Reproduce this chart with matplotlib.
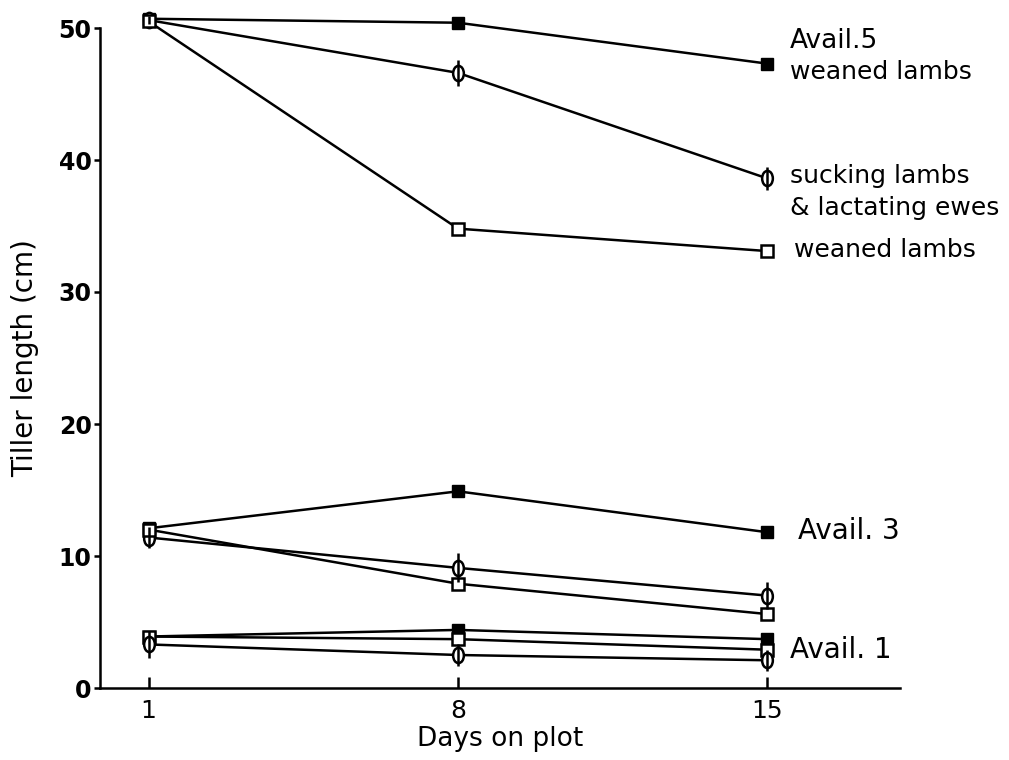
import numpy as np
import matplotlib.pyplot as plt
from matplotlib.path import Path
from matplotlib.transforms import Affine2D

# Tiller length (cm) on days 1, 8 and 15 for three herbage availabilities
days = [1, 8, 15]

avail5_weaned_filled = [50.7, 50.4, 47.3]
avail5_sucking = [50.6, 46.6, 38.6]
avail5_sucking_err = [0.3, 1.0, 0.9]
avail5_weaned_open = [50.5, 34.8, 33.1]

avail3_weaned_filled = [12.1, 14.9, 11.8]
avail3_sucking = [11.4, 9.1, 7.0]
avail3_sucking_err = [0.8, 1.1, 1.0]
avail3_weaned_open = [12.0, 7.9, 5.6]

avail1_weaned_filled = [3.9, 4.4, 3.7]
avail1_weaned_open = [3.9, 3.7, 2.9]
avail1_sucking = [3.3, 2.5, 2.1]
avail1_sucking_err = [1.0, 0.8, 0.8]

# narrow ellipse for the "phi" symbol
ellipse = Affine2D().scale(0.7, 1.0).transform_path(Path.unit_circle())

fig = plt.figure(figsize=(10.09, 7.6), dpi=100)
ax = fig.add_axes([100/1009, 72/760, 800/1009, 660/760])

lw = 1.8
k = 'black'

def filled_sq(y):
    ax.plot(days, y, color=k, lw=lw, marker='s', ms=9, mfc=k, mec=k, clip_on=False, zorder=3)

def open_sq(y):
    ax.plot(days, y, color=k, lw=lw, marker='s', ms=9, mfc='white', mec=k, mew=1.8,
            clip_on=False, zorder=3)

def phi(y, err):
    ax.plot(days, y, color=k, lw=lw, clip_on=False, zorder=2)
    ax.plot(days, y, ls='none', marker=ellipse, ms=11, mfc='white', mec=k, mew=1.8,
            clip_on=False, zorder=3)
    ax.errorbar(days, y, yerr=err, fmt='none', ecolor=k, elinewidth=1.8, capsize=0,
                clip_on=False, zorder=5)

filled_sq(avail5_weaned_filled)
phi(avail5_sucking, avail5_sucking_err)
open_sq(avail5_weaned_open)

filled_sq(avail3_weaned_filled)
phi(avail3_sucking, avail3_sucking_err)
open_sq(avail3_weaned_open)

filled_sq(avail1_weaned_filled)
open_sq(avail1_weaned_open)
phi(avail1_sucking, avail1_sucking_err)

ax.set_xlim(-0.1, 18.0)
ax.set_ylim(0, 50)
ax.set_xticks(days)
ax.set_yticks([0, 10, 20, 30, 40, 50])
ax.spines['top'].set_visible(False)
ax.spines['right'].set_visible(False)
for s in ['left', 'bottom']:
    ax.spines[s].set_linewidth(1.8)
ax.tick_params(axis='y', direction='out', length=4, width=1.8, labelsize=17, pad=2)
ax.tick_params(axis='x', direction='in', length=8, width=1.8, labelsize=18, pad=8)
for t in ax.get_yticklabels():
    t.set_fontweight('bold')

ax.set_xlabel('Days on plot', fontsize=19, labelpad=2)
ax.set_ylabel('Tiller length (cm)', fontsize=20, labelpad=14)

fs = 18
fa = 19
ax.text(15.5, 49.0, 'Avail.5', fontsize=fa, va='center', ha='left')
ax.text(15.5, 46.7, 'weaned lambs', fontsize=fs, va='center', ha='left')
ax.text(15.5, 38.8, 'sucking lambs', fontsize=fs, va='center', ha='left')
ax.text(15.5, 36.4, '& lactating ewes', fontsize=fs, va='center', ha='left')
ax.text(15.6, 33.2, 'weaned lambs', fontsize=fs, va='center', ha='left')
ax.text(15.7, 11.9, 'Avail. 3', fontsize=20, va='center', ha='left')
ax.text(15.5, 2.9, 'Avail. 1', fontsize=20, va='center', ha='left')

fig.savefig('out.png', dpi=100)
